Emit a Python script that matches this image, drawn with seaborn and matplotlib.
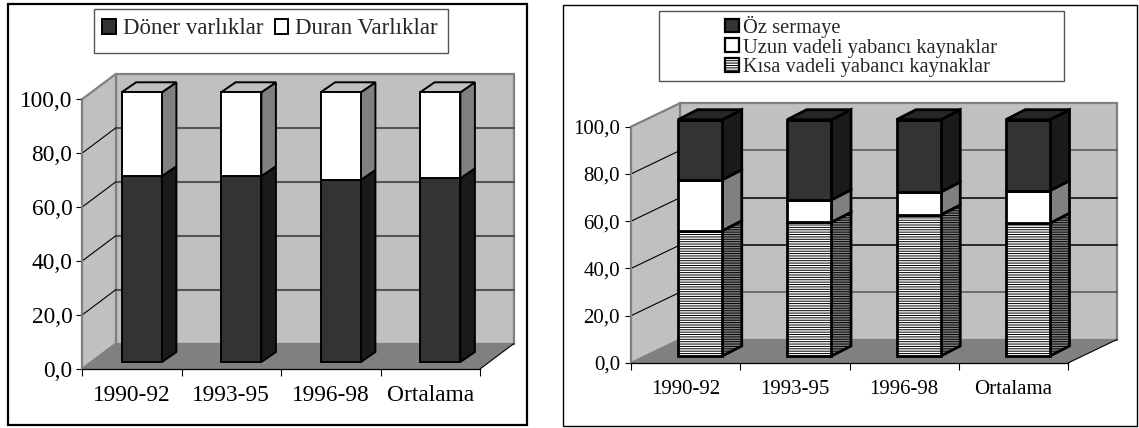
import matplotlib
matplotlib.use("Agg")
import matplotlib.pyplot as plt
from matplotlib.patches import Rectangle, Polygon
from matplotlib.transforms import Affine2D
import seaborn as sns

W, H = 1139, 428

periods = ["1990-92", "1993-95", "1996-98", "Ortalama"]
y_ticks = [0, 20, 40, 60, 80, 100]

doner = [68.9, 68.9, 67.5, 68.1]
duran = [31.1, 31.1, 32.5, 31.9]

kisa = [53.0, 56.6, 59.7, 56.2]
uzun = [21.6, 9.5, 9.7, 13.8]
oz = [25.4, 33.9, 30.6, 30.0]

sns.set_theme(style="ticks")
plt.rcParams["font.family"] = ["Liberation Serif", "DejaVu Sans"]
plt.rcParams["hatch.linewidth"] = 0.7


def make_axes(fig, x0, x1, ytop, ybot):
    ax = fig.add_axes([x0 / W, (H - ybot) / H, (x1 - x0) / W, (ybot - ytop) / H])
    ax.patch.set_visible(False)
    return ax


def draw_room(ax, wall, grid_colors, grid_lw):
    # wall is the depth of the chart box in data units
    wx, wy = wall
    lo, hi = -0.5, 3.5
    ax.add_patch(Polygon([(lo + wx, wy), (lo + wx, 100 + wy), (hi + wx, 100 + wy), (hi + wx, wy)],
                         fc="#c0c0c0", ec="#808080", lw=1.6, zorder=0.1, clip_on=False))
    ax.add_patch(Polygon([(lo, 0), (lo, 100), (lo + wx, 100 + wy), (lo + wx, wy)],
                         fc="#c0c0c0", ec="#808080", lw=1.6, zorder=0.1, clip_on=False))
    ax.add_patch(Polygon([(lo, 0), (hi, 0), (hi + wx, wy), (lo + wx, wy)],
                         fc="#808080", ec="none", zorder=0.2, clip_on=False))
    ax.plot([hi, hi + wx], [0, wy], color="black", lw=0.8, zorder=0.3, clip_on=False)
    for t, c in zip(y_ticks[1:-1], grid_colors):
        ax.plot([lo + wx, hi + wx], [t + wy, t + wy], color=c, lw=grid_lw, zorder=0.3, clip_on=False)
        ax.plot([lo, lo + wx], [t, t + wy], color="black", lw=0.8, zorder=0.3, clip_on=False)


def draw_stack(ax, values, bottoms, front, side, top, lw, plane, depth, hatch=None, z=3):
    n_before = len(ax.containers)
    sns.barplot(x=periods, y=values, bottom=bottoms, order=periods, width=bar_w, color=front,
                saturation=1, edgecolor="black", linewidth=lw, errorbar=None, ax=ax)
    dx, dy = depth
    shift = Affine2D().translate(*plane) + ax.transData
    for bar in ax.containers[n_before]:
        bar.set_transform(shift)
        bar.set_clip_on(False)
        bar.set_zorder(z + 1)
        if hatch:
            bar.set_hatch(hatch)
        x0 = bar.get_x() + plane[0]
        x1 = x0 + bar.get_width()
        y0 = bar.get_y() + plane[1]
        y1 = y0 + bar.get_height()
        ax.add_patch(Polygon([(x1, y0), (x1 + dx, y0 + dy), (x1 + dx, y1 + dy), (x1, y1)],
                             fc=side, ec="black", lw=lw, hatch=hatch, zorder=z, clip_on=False))
        if top:
            ax.add_patch(Polygon([(x0, y1), (x1, y1), (x1 + dx, y1 + dy), (x0 + dx, y1 + dy)],
                                 fc=top, ec="black", lw=lw, zorder=z, clip_on=False))


def finish_axes(ax, size, xpad, ypad):
    ax.set_xlim(-0.5, 3.5)
    ax.set_ylim(0, 100)
    ax.set_yticks(y_ticks, [f"{t},0" for t in y_ticks])
    ax.set_xticks([-0.5, 0.5, 1.5, 2.5, 3.5], minor=True)
    ax.tick_params(axis="x", which="major", length=0, pad=xpad, labelsize=size, colors="black")
    ax.tick_params(axis="x", which="minor", length=5, width=0.8, color="black")
    ax.tick_params(axis="y", length=4, width=0.8, pad=ypad, labelsize=size, colors="black")
    ax.set_xlabel("")
    ax.set_ylabel("")
    sns.despine(ax=ax)
    ax.spines["left"].set_color("#808080")
    ax.spines["left"].set_linewidth(1.4)
    ax.spines["bottom"].set_color("black")
    ax.spines["bottom"].set_linewidth(0.9)


def box(fig, x0, y0, x1, y1, ec, lw):
    fig.add_artist(Rectangle((x0 / W, 1 - y1 / H), (x1 - x0) / W, (y1 - y0) / H, fc="white",
                             ec=ec, lw=lw, transform=fig.transFigure, zorder=-1))


fig = plt.figure(figsize=(W / 100, H / 100), dpi=100, facecolor="white")

# left chart: scale 99.5 px per category, 2.7 px per percent
box(fig, 8, 4, 527, 425, "black", 1.6)
box(fig, 94, 9, 448, 53, "#555555", 1.0)
ax1 = make_axes(fig, 82, 480, 99.3, 369)
sx, sy = 99.5, 2.697
bar_w = 0.405
draw_room(ax1, (34 / sx, 25.5 / sy), ["#555555"] * 4, 1.5)
plane = (10 / sx, 7 / sy)
depth = (14.5 / sx, 10 / sy)
draw_stack(ax1, doner, [0, 0, 0, 0], "#333333", "#1a1a1a", None, 1.4, plane, depth, z=3)
draw_stack(ax1, duran, doner, "white", "#808080", "#c0c0c0", 1.4, plane, depth, z=3)
finish_axes(ax1, 16.8, 11.5, 3)

h1 = [Rectangle((0, 0), 1, 1, fc="#333333", ec="black", lw=1.4),
      Rectangle((0, 0), 1, 1, fc="white", ec="black", lw=1.4)]
fig.legend(h1, ["Döner varlıklar", "Duran Varlıklar"], loc="center", bbox_to_anchor=(270 / W, 1 - 29 / H),
           ncol=2, frameon=False, fontsize=16.5, handlelength=0.6, handleheight=0.6,
           handletextpad=0.3, columnspacing=0.5, borderpad=0)

# right chart: scale 109.25 px per category, 2.363 px per percent
box(fig, 562.5, 5, 1137, 425.5, "black", 1.0)
box(fig, 659, 11, 1064, 81, "#555555", 1.0)
ax2 = make_axes(fig, 631, 1068, 126.7, 363)
sx, sy = 109.25, 2.363
draw_room(ax2, (49 / sx, 23.5 / sy), ["#555555", "black", "black", "#555555"], 1.1)
plane = (14.5 / sx, 7 / sy)
depth = (19.5 / sx, 10 / sy)
kisa_uzun = [a + b for a, b in zip(kisa, uzun)]
draw_stack(ax2, kisa, [0, 0, 0, 0], "white", "#808080", None, 2.0, plane, depth, hatch="-------", z=3)
draw_stack(ax2, uzun, kisa, "white", "#808080", None, 2.0, plane, depth, z=3)
draw_stack(ax2, oz, kisa_uzun, "#333333", "#1a1a1a", "#262626", 2.0, plane, depth, z=3)
finish_axes(ax2, 15.0, 12, 4)

h2 = [Rectangle((0, 0), 1, 1, fc="#333333", ec="black", lw=1.6),
      Rectangle((0, 0), 1, 1, fc="white", ec="black", lw=1.6),
      Rectangle((0, 0), 1, 1, fc="white", ec="black", lw=1.6, hatch="-------")]
fig.legend(h2, ["Öz sermaye", "Uzun vadeli yabancı kaynaklar", "Kısa vadeli yabancı kaynaklar"],
           loc="center", bbox_to_anchor=(861 / W, 1 - 46.5 / H), ncol=1, frameon=False, fontsize=14.8,
           handlelength=0.65, handleheight=0.65, handletextpad=0.2, labelspacing=0.03, borderpad=0,
           alignment="left")

fig.savefig("out.png", dpi=100)
